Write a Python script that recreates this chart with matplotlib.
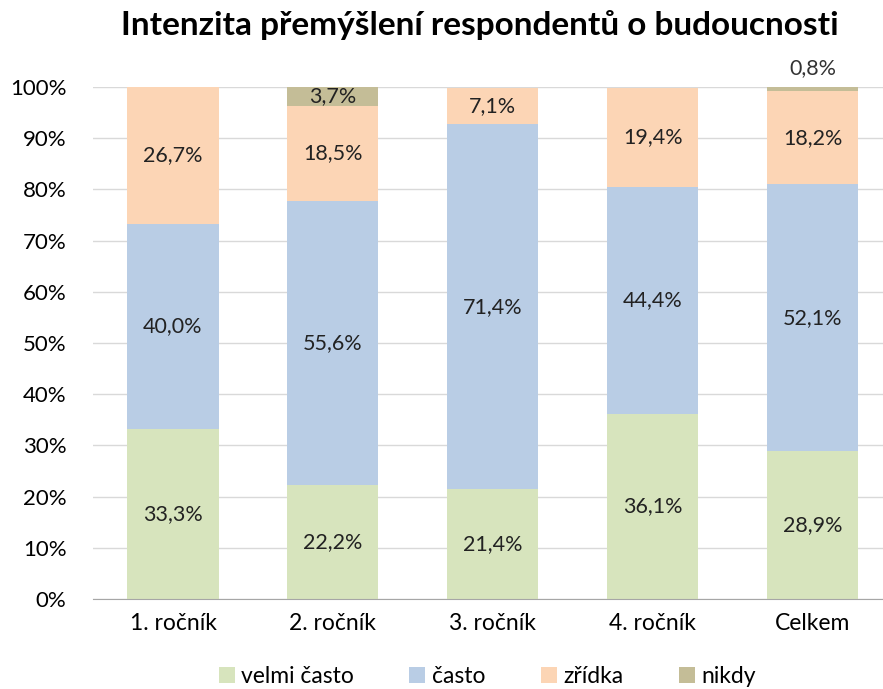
import numpy as np
import matplotlib.pyplot as plt

plt.rcParams['font.family'] = ['Lato', 'DejaVu Sans']

categories = ['1. ročník', '2. ročník', '3. ročník', '4. ročník', 'Celkem']
series_names = ['velmi často', 'často', 'zřídka', 'nikdy']
velmi_casto = [33.3, 22.2, 21.4, 36.1, 28.9]
casto = [40.0, 55.6, 71.4, 44.4, 52.1]
zridka = [26.7, 18.5, 7.1, 19.4, 18.2]
nikdy = [0.0, 3.7, 0.0, 0.0, 0.8]
colors = ['#D7E4BD', '#B9CDE5', '#FCD5B5', '#C4BD97']

fig = plt.figure(figsize=(8.83, 6.89), dpi=100)
ax = fig.add_axes([93/883, 90/689, 1 - 93/883, 512/689])

x = np.arange(len(categories))
bottom = np.zeros(len(categories))
for name, vals, col in zip(series_names, [velmi_casto, casto, zridka, nikdy], colors):
    vals = np.array(vals)
    ax.bar(x, vals, 0.57, bottom=bottom, color=col, label=name, zorder=2)
    for i, v in enumerate(vals):
        if v <= 0:
            continue
        lab = ('%.1f%%' % v).replace('.', ',')
        if v < 2:
            ax.text(x[i], bottom[i] + v + 1.8, lab, ha='center', va='bottom', fontsize=15.5, color='#333333')
        else:
            ax.text(x[i], bottom[i] + v / 2, lab, ha='center', va='center', fontsize=15.5, color='#222222')
    bottom += vals

ax.set_xlim(-0.5, 4.44)
ax.set_ylim(0, 100)
ax.set_yticks(np.arange(0, 101, 10))
ax.set_yticklabels(['%d%%' % t for t in range(0, 101, 10)], fontsize=16)
ax.set_xticks(x)
ax.set_xticklabels(categories, fontsize=16.5)
ax.tick_params(length=0, pad=10)
ax.tick_params(axis='y', pad=19)
ax.grid(axis='y', color='#D9D9D9', linewidth=1, zorder=0)
for s in ['top', 'right', 'left']:
    ax.spines[s].set_visible(False)
ax.spines['bottom'].set_color('#A6A6A6')
ax.spines['bottom'].set_zorder(3)

fig.text(0.543, 0.963, 'Intenzita přemýšlení respondentů o budoucnosti', ha='center', va='center',
         fontsize=24, fontweight='bold')
fig.legend(loc='center', bbox_to_anchor=(0.552, 0.018), ncol=4, frameon=False, fontsize=16.5,
           handlelength=0.7, handleheight=0.7, handletextpad=0.3, columnspacing=2.4)

fig.savefig('out.png', dpi=100)
